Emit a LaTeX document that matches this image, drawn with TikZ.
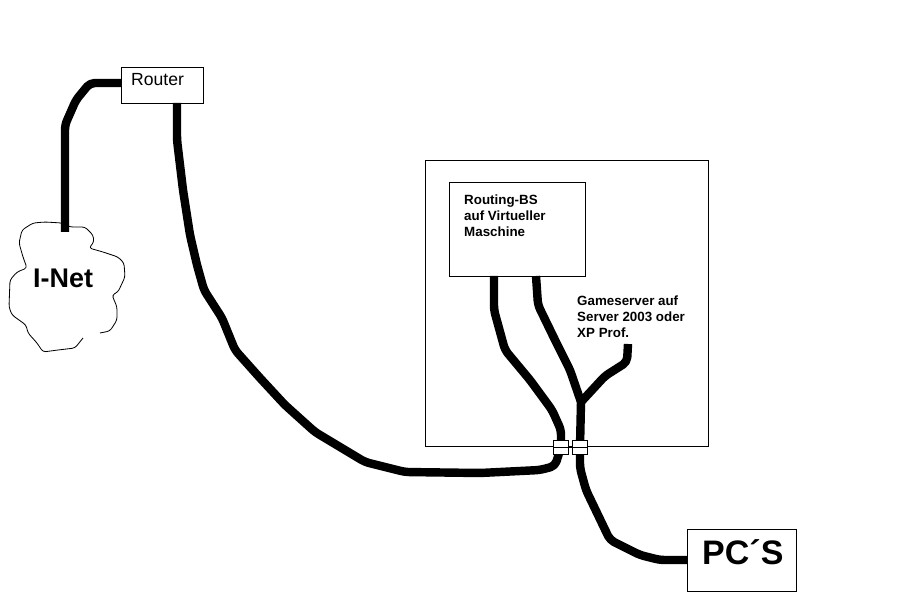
\documentclass[tikz,border=0pt]{standalone}
\usepackage{fontspec}
\setmainfont{Liberation Sans}
\tikzset{
  px/.style={x=0.03cm,y=-0.03cm},
  cable/.style={line width=7.2pt,line join=round,rounded corners=4pt},
  boxed/.style={draw=black,line width=0.85pt,fill=white,inner sep=0pt,anchor=north west},
  port/.style={boxed,minimum width=0.435cm,minimum height=0.42cm},
  cloudline/.style={line width=0.7pt,line join=round,rounded corners=2.5pt},
  label/.style={inner sep=0pt,anchor=west,align=left},
  small/.style={font=\fontsize{11.4pt}{13.65pt}\selectfont\bfseries}
}
\begin{document}
\begin{tikzpicture}[px]
\useasboundingbox (0,0) rectangle (900,600);
\fill[white] (0,0) rectangle (900,600);

% Enclosure and the boxes inside it
\node[boxed,minimum width=8.49cm,minimum height=8.58cm] (host) at (425,160) {};
\node[boxed,minimum width=4.08cm,minimum height=2.82cm] (vm) at (449,182) {};
\node[boxed,minimum width=2.46cm,minimum height=1.08cm] (router) at (121,67) {};
\node[boxed,minimum width=3.27cm,minimum height=1.86cm] (pcs) at (687,529) {};

% Cable attachment points
\coordinate (routerW) at (121,83);
\coordinate (routerS) at (177,103);
\coordinate (cloudTop) at (65,232);
\coordinate (vmA) at (494,276);
\coordinate (vmB) at (536,276);
\coordinate (game) at (628,344);
\coordinate (fork) at (581,402);
\coordinate (pcsW) at (687,560);

% Hand-drawn cloud
\draw[cloudline] (100,333) -- (110,331) -- (117,320) -- (117,307) -- (112,295) -- (118,292)
  -- (125,277) -- (124,263) -- (118,257) -- (103,252) -- (89,248) -- (94,242) -- (93,235)
  -- (85,227) -- (70,227) -- (62,223) -- (45,222) -- (33,223) -- (22,230) -- (19,243)
  -- (23,257) -- (27,268) -- (17,272) -- (10,280) -- (9,307) -- (12,315) -- (26,325)
  -- (28,333) -- (37,343) -- (43,352) -- (58,350) -- (75,348) -- (83,338);

% Cables
\draw[cable] (routerW) -- (90,83) -- (76,100) -- (65,125) -- (cloudTop);
\draw[cable] (routerS) -- (177,140) -- (183,190) -- (190,235) -- (197,265) -- (204,290)
  -- (222,318) -- (235,350) -- (260,378) -- (285,405) -- (315,432) -- (365,462)
  -- (405,472) -- (480,473) -- (540,470) -- (555,466) -- (561,447);
\draw[cable] (vmA) -- (494,310) -- (505,350) -- (530,380) -- (552,410) -- (561,430) -- (561,447);
\draw[cable] (vmB) -- (538,305) -- (555,340) -- (570,370) -- (fork);
\draw[cable] (game) -- (627,362) -- (605,376) -- (fork);
\draw[cable] (fork) -- (580,447) -- (580,468) -- (586,490) -- (598,515) -- (610,540)
  -- (640,555) -- (660,560) -- (pcsW);

% Ports on the enclosure wall; the wall line runs through them
\node[port] (portA) at (553,440) {};
\node[port] (portB) at (572,440) {};
\draw[line width=0.85pt] (portA.west |- host.south) -- (portB.east |- host.south);

% Labels
\node[label,font=\fontsize{15pt}{16pt}\selectfont] (routerText) at (131,80) {Router};
\node[label,font=\fontsize{23pt}{26pt}\selectfont\bfseries] (inet) at (33,278) {I-Net};
\node[label,small] (vmText) at (464,216) {Routing-BS\\auf Virtueller\\Maschine};
\node[label,small] (gameText) at (577,317) {Gameserver auf\\Server 2003 oder\\XP Prof.};
\node[label,font=\fontsize{29pt}{32pt}\selectfont\bfseries] (pcsText) at (702,552) {PC´S};
\end{tikzpicture}
\end{document}
